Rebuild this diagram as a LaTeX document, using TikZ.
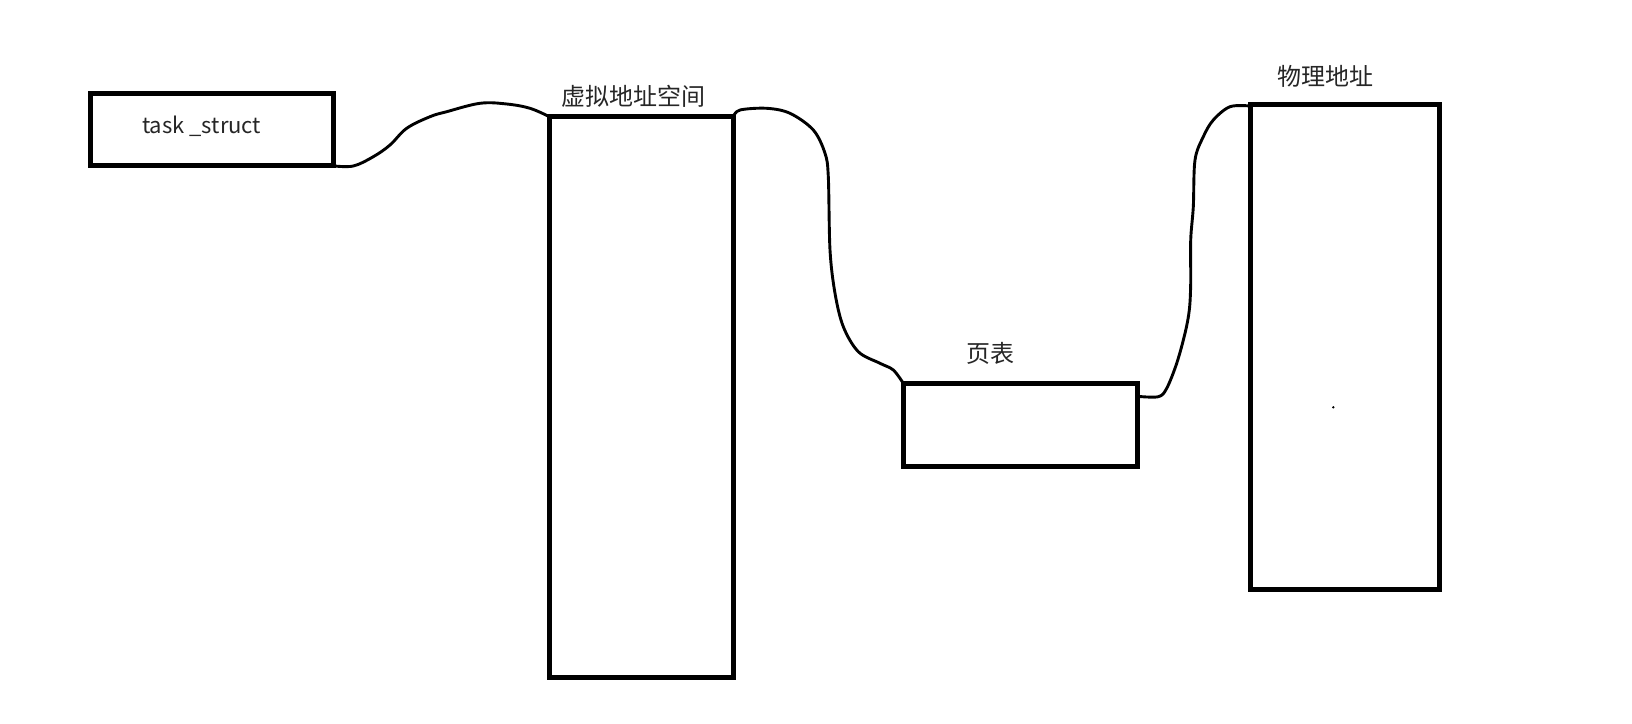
\documentclass[tikz,border=0pt]{standalone}
\usepackage{fontspec}
\setmainfont{Noto Sans CJK SC}
\newfontfamily\cjk{Noto Sans CJK SC}
\tikzset{
  box/.style={draw=black, line width=5pt, inner sep=0pt, outer sep=0pt, fill=none},
  wire/.style={draw=black, line width=2.9pt, line cap=round, line join=round},
  cjklabel/.style={font=\cjk\fontsize{24}{27}\selectfont, text=black!85, inner sep=0pt},
  latinlabel/.style={font=\fontsize{22}{25}\selectfont, text=black!85, inner sep=0pt}
}
\begin{document}
\begin{tikzpicture}[x=1pt, y=-1pt]
\useasboundingbox[fill=white] (0,0) rectangle (1632,723);
% boxes
\node[box, minimum width=242.7pt, minimum height=72.3pt] (ts) at (212.2,129.7) {};
\node[box, minimum width=184pt, minimum height=560.6pt] (va) at (641.3,397) {};
\node[box, minimum width=234pt, minimum height=83.4pt] (pt) at (1020.3,425) {};
\node[box, minimum width=188.5pt, minimum height=485.3pt] (pa) at (1345,346.7) {};
% labels
\node[latinlabel] (tslabel) at (201.7,126.5) {task \_struct};
\node[cjklabel] (valabel) at (633.3,96.7) {虚拟地址空间};
\node[cjklabel] (ptlabel) at (990.8,353.3) {页表};
\node[cjklabel] (palabel) at (1325,76.7) {物理地址};
% tiny dot
\fill[black] (1333.3,407.3) circle (1.3pt);
% connectors
\draw[wire] plot[smooth, tension=0.6] coordinates {(ts.south east) (353.3,166) (373.3,156.7) (390,145) (406.7,128.3) (430,116.7) (446.7,111.7) (480,103.3) (506.7,104) (530,108.3) (va.north west)};
\draw[wire] plot[smooth, tension=0.55] coordinates {(va.north east) (740,110) (766.7,108.3) (790,113.3) (813.3,130) (825,153.3) (828.3,176.7) (830,250) (835,293.3) (843.3,326.7) (858.3,351.7) (880,363.3) (893.3,370) (pt.north west)};
\draw[wire] plot[smooth, tension=0.55] coordinates {([yshift=-13pt]pt.north east) (1158.3,396.7) (1166.7,388.3) (1176.7,363.3) (1185,333.3) (1189.3,310) (1190.7,283.3) (1190.7,240) (1193.3,206.7) (1195,160) (1203.3,136.7) (1213.3,120) (1230,106.7) ([yshift=-2pt]pa.north west)};
\end{tikzpicture}
\end{document}
